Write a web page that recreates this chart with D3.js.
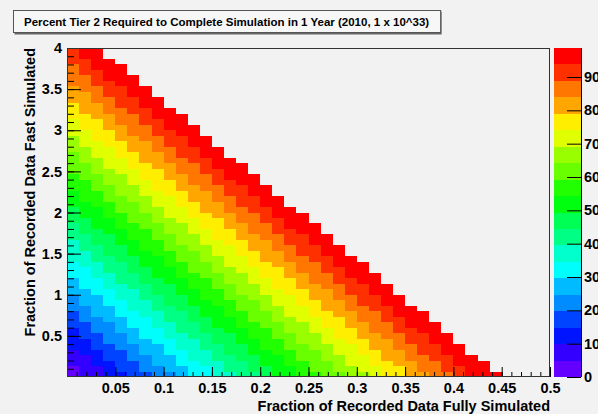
<!DOCTYPE html>
<html>
<head>
<meta charset="utf-8">
<script src="https://cdn.jsdelivr.net/npm/d3@7/dist/d3.min.js"></script>
<style>
  body { margin:0; background:#f2f2f2; }
  svg { display:block; font-family:'Liberation Sans', Arial, sans-serif; font-weight:bold; }
</style>
</head>
<body>
<svg id="chart" width="598" height="414"></svg>
<script>
var title = 'Percent Tier 2 Required to Complete Simulation in 1 Year (2010, 1 x 10^33)';
var xTitle = 'Fraction of Recorded Data Fully Simulated';
var yTitle = 'Fraction of Recorded Data Fast Simulated';

// binning of the map
var xRange = [0, 0.5], xBins = 40;
var yRange = [0, 4], yBins = 60;

// percent of tier 2 used by each x bin (full sim) and each y bin (fast sim)
var fullSimPct = [1.39, 4.17, 6.95, 9.73, 12.52, 15.30, 18.08, 20.86, 23.64, 26.42,
  29.20, 31.98, 34.77, 37.55, 40.33, 43.11, 45.89, 48.67, 51.45, 54.23,
  57.02, 59.80, 62.58, 65.36, 68.14, 70.92, 73.70, 76.48, 79.27, 82.05,
  84.83, 87.61, 90.39, 93.17, 95.95, 98.73, 101.52, 104.30, 107.08, 109.86];
var fastSimPct = [0.77, 2.32, 3.87, 5.41, 6.96, 8.51, 10.05, 11.60, 13.15, 14.69,
  16.24, 17.79, 19.33, 20.88, 22.43, 23.97, 25.52, 27.07, 28.61, 30.16,
  31.71, 33.25, 34.80, 36.35, 37.89, 39.44, 40.99, 42.53, 44.08, 45.63,
  47.17, 48.72, 50.27, 51.81, 53.36, 54.91, 56.45, 58.00, 59.55, 61.09,
  62.64, 64.19, 65.73, 67.28, 68.83, 70.37, 71.92, 73.47, 75.01, 76.56,
  78.11, 79.65, 81.20, 82.75, 84.29, 85.84, 87.39, 88.93, 90.48, 92.03];

// colour scale
var zRange = [0, 98.7], zLevels = 20;
var xTicks = [0.05, 0.1, 0.15, 0.2, 0.25, 0.3, 0.35, 0.4, 0.45, 0.5];
var yTicks = [0.5, 1, 1.5, 2, 2.5, 3, 3.5, 4];
var zTicks = [0, 10, 20, 30, 40, 50, 60, 70, 80, 90];

var svg = d3.select('#chart');
var frame = {left:67, right:550, top:48, bottom:377};
var bar = {left:554, right:581};

var x = d3.scaleLinear().domain(xRange).range([frame.left, frame.right]);
var y = d3.scaleLinear().domain(yRange).range([frame.bottom, frame.top]);
var z = d3.scaleLinear().domain(zRange).range([frame.bottom, frame.top]);

// root "pretty" palette, 50 colours, 20 contours
function levelColor(k){
  var idx = Math.floor((k+0.99)*50/zLevels);
  var hue = 280-(idx+1)*(280/50);
  return d3.hsl(hue, 1, 0.5).toString();
}
function level(v){
  var k = Math.floor((v-zRange[0])/(zRange[1]-zRange[0])*zLevels);
  return Math.max(0, Math.min(zLevels-1, k));
}

// frame background
svg.append('rect')
    .attr('x', frame.left).attr('y', frame.top)
    .attr('width', frame.right-frame.left).attr('height', frame.bottom-frame.top)
    .style('fill','#f2f2f2');

// cells
var dx = (xRange[1]-xRange[0])/xBins, dy = (yRange[1]-yRange[0])/yBins;
var cells = [];
fastSimPct.forEach(function(fy, j){
  fullSimPct.forEach(function(fx, i){
    var v = fx+fy;
    if (v <= 100){ cells.push({i:i, j:j, v:v}); }
  });
});
svg.append('g').selectAll('rect')
    .data(cells)
    .enter().append('rect')
    .attr('x', function(d){ return x(xRange[0]+d.i*dx); })
    .attr('y', function(d){ return y(yRange[0]+(d.j+1)*dy); })
    .attr('width', function(d){ return x(xRange[0]+(d.i+1)*dx)-x(xRange[0]+d.i*dx); })
    .attr('height', function(d){ return y(yRange[0]+d.j*dy)-y(yRange[0]+(d.j+1)*dy); })
    .attr('shape-rendering','crispEdges')
    .style('fill', function(d){ return levelColor(level(d.v)); });

// x axis, ticks point up into the frame
var xMinor = d3.range(1, 50).map(function(i){ return i*0.01; });
svg.append('g').attr('class','axis')
    .attr('transform','translate(0,'+frame.bottom+')')
    .call(d3.axisBottom(x).tickValues(xMinor).tickSize(-5).tickFormat(''));
svg.append('g').attr('class','axis')
    .attr('transform','translate(0,'+frame.bottom+')')
    .call(d3.axisBottom(x).tickValues(xTicks).tickSize(-10).tickPadding(6)
      .tickFormat(function(d){ return String(+d.toFixed(2)); }));

// y axis, ticks point right
var yMinor = d3.range(1, 40).map(function(i){ return i*0.1; });
svg.append('g').attr('class','axis')
    .attr('transform','translate('+frame.left+',0)')
    .call(d3.axisLeft(y).tickValues(yMinor).tickSize(-7).tickFormat(''));
svg.append('g').attr('class','axis')
    .attr('transform','translate('+frame.left+',0)')
    .call(d3.axisLeft(y).tickValues(yTicks).tickSize(-14).tickPadding(5)
      .tickFormat(function(d){ return String(d); }));

svg.selectAll('.axis .domain').remove();
svg.selectAll('.axis text').style('font-size','14.5px').style('font-family',"'Liberation Sans', Arial, sans-serif").style('font-weight','bold').style('fill','#000');
svg.selectAll('.axis line').style('stroke','#000');

// frame border
svg.append('rect')
    .attr('x', frame.left+0.5).attr('y', frame.top+0.5)
    .attr('width', frame.right-frame.left-1).attr('height', frame.bottom-frame.top-1)
    .style('fill','none').style('stroke','#333');

// colour bar
var bands = d3.range(zLevels);
svg.append('g').selectAll('rect')
    .data(bands)
    .enter().append('rect')
    .attr('x', bar.left)
    .attr('y', function(k){ return z(zRange[0]+(k+1)*(zRange[1]-zRange[0])/zLevels); })
    .attr('width', bar.right-bar.left)
    .attr('height', function(k){ return z(zRange[0]+k*(zRange[1]-zRange[0])/zLevels)-z(zRange[0]+(k+1)*(zRange[1]-zRange[0])/zLevels); })
    .attr('shape-rendering','crispEdges')
    .style('fill', levelColor);

svg.append('g').attr('class','zaxis')
    .attr('transform','translate('+bar.right+',0)')
    .call(d3.axisRight(z).tickValues(zTicks).tickSize(-14).tickPadding(3));
svg.selectAll('.zaxis .domain').attr('d','M0.5,'+frame.top+'V'+frame.bottom).style('stroke','#000');
svg.selectAll('.zaxis text').style('font-size','14.5px').style('font-family',"'Liberation Sans', Arial, sans-serif").style('font-weight','bold').style('fill','#000');
svg.selectAll('.zaxis line').style('stroke','#000');

// axis titles
svg.append('text')
    .attr('x', frame.right).attr('y', 411)
    .style('text-anchor','end')
    .style('font-size','14.5px')
    .text(xTitle);
svg.append('text')
    .attr('transform','translate(35,'+frame.top+') rotate(-90)')
    .style('text-anchor','end')
    .style('font-size','14.5px')
    .text(yTitle);

// title box with a small shadow
var tbox = svg.append('g');
var ttext = tbox.append('text')
    .attr('y', 26)
    .style('font-size','11.5px')
    .text(title);
var tw = ttext.node().getComputedTextLength();
var bx = 13, bw = tw+22;
tbox.insert('rect','text')
    .attr('x', bx+1.5).attr('y', 11.5).attr('width', bw).attr('height', 23)
    .style('fill','#666');
tbox.insert('rect','text')
    .attr('x', bx+0.5).attr('y', 10.5).attr('width', bw).attr('height', 22)
    .style('fill','#f7f7f7').style('stroke','#555');
ttext.attr('x', bx+bw/2).style('text-anchor','middle');
</script>
</body>
</html>
